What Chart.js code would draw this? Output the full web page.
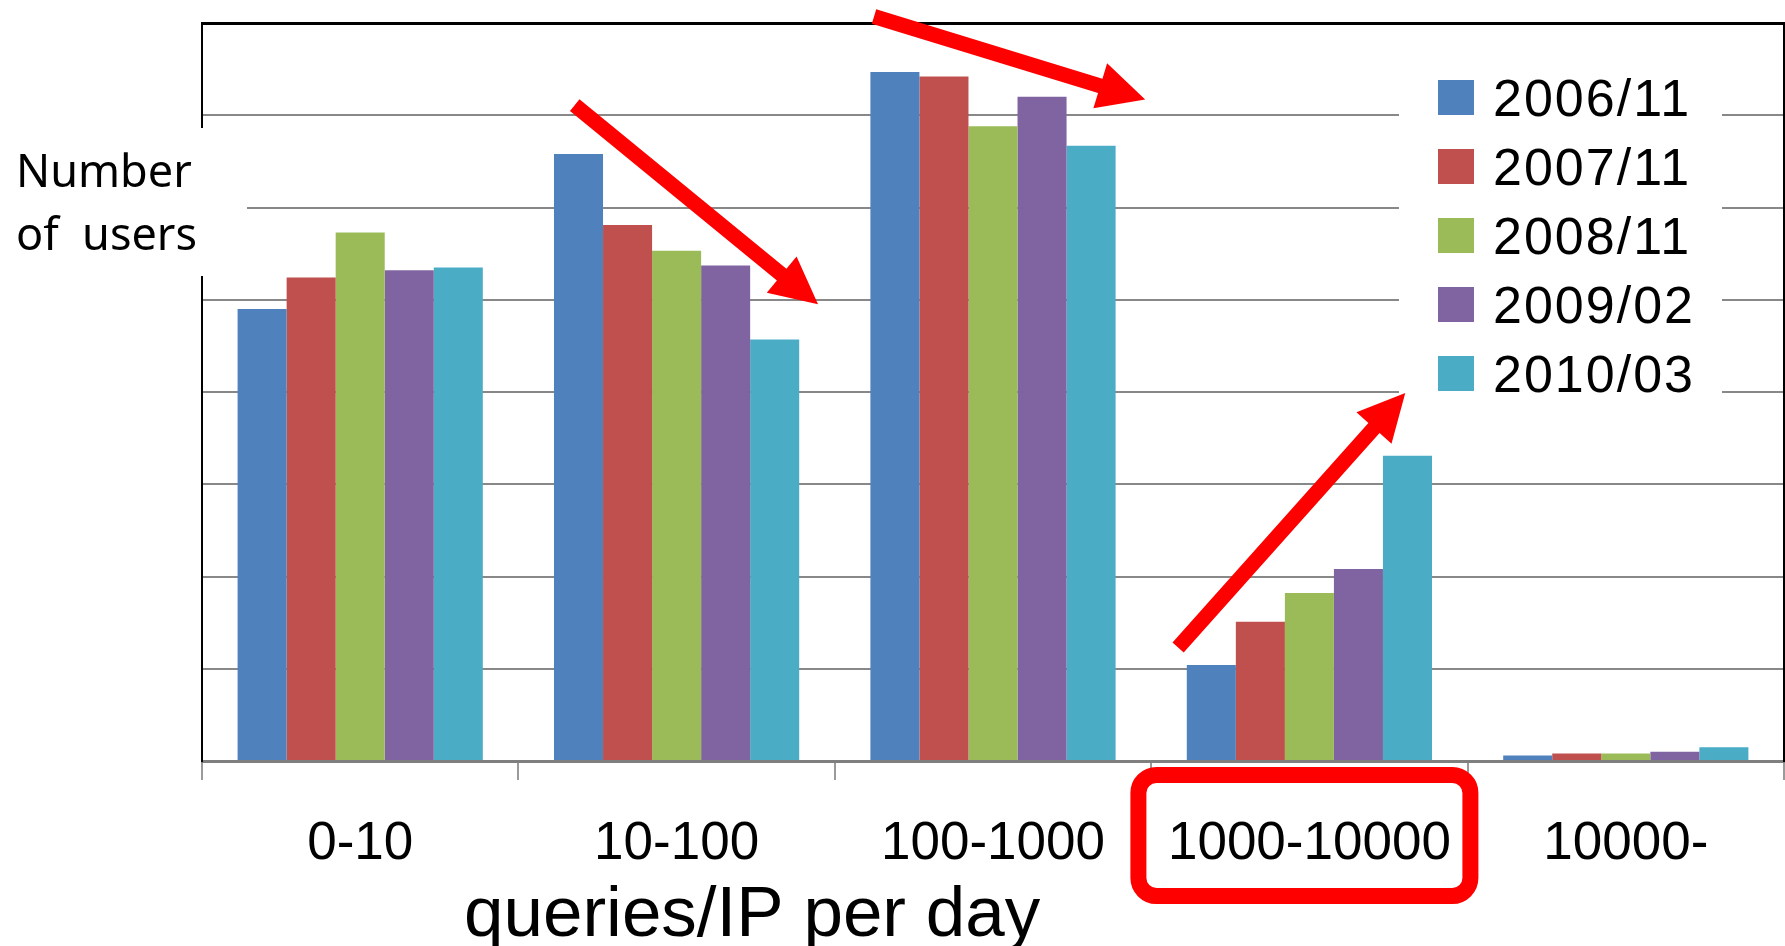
<!DOCTYPE html>
<html>
<head>
<meta charset="utf-8">
<script src="https://cdn.jsdelivr.net/npm/chart.js@4.4.1/dist/chart.umd.min.js"></script>
<style>
  body { margin: 0; background: #fff; }
  canvas { display: block; }
</style>
</head>
<body>
<canvas id="chartjs-0" width="1785" height="946"></canvas>
<script>
var categories = ["0-10", "10-100", "100-1000", "1000-10000", "10000-"];
var periods = ["2006/11", "2007/11", "2008/11", "2009/02", "2010/03"];
var colors = ["#4F81BD", "#C0504D", "#9BBB59", "#8064A2", "#4BACC6"];

// number of users per bucket, in gridline units (the original has no y numbers)
var users200611 = [4.90, 6.58, 7.47, 1.04, 0.06];
var users200711 = [5.24, 5.81, 7.42, 1.51, 0.08];
var users200811 = [5.73, 5.53, 6.88, 1.82, 0.08];
var users200902 = [5.32, 5.37, 7.20, 2.08, 0.10];
var users201003 = [5.35, 4.57, 6.67, 3.31, 0.15];

var yLabelLines = ["Number", "of  users"];
var xTitle = "queries/IP per day";

// red arrows: [category position, value] -> [category position, value]
var arrows = [
  [0.678, 7.11, 1.447, 4.95],
  [1.624, 8.07, 2.481, 7.17],
  [2.585, 1.23, 3.303, 3.99]
];
var highlightCategory = 3;

function drawArrow(ctx, x0, y0, x1, y1) {
  var dx = x1 - x0, dy = y1 - y0;
  var len = Math.sqrt(dx * dx + dy * dy);
  var ux = dx / len, uy = dy / len;
  var px = -uy, py = ux;
  var head = 47, hw = 23.5, sw = 7.5;
  var bx = x1 - ux * head, by = y1 - uy * head;
  ctx.beginPath();
  ctx.moveTo(x0 + px * sw, y0 + py * sw);
  ctx.lineTo(bx + px * sw, by + py * sw);
  ctx.lineTo(bx + px * hw, by + py * hw);
  ctx.lineTo(x1, y1);
  ctx.lineTo(bx - px * hw, by - py * hw);
  ctx.lineTo(bx - px * sw, by - py * sw);
  ctx.lineTo(x0 - px * sw, y0 - py * sw);
  ctx.closePath();
  ctx.fill();
}

var extras = {
  id: "extras",
  afterDraw: function (chart) {
    var ctx = chart.ctx;
    var area = chart.chartArea;
    var xs = chart.scales.x;
    var ys = chart.scales.y;
    var catW = xs.getPixelForValue(1) - xs.getPixelForValue(0);
    function cx(v) { return xs.getPixelForValue(0) + v * catW; }

    ctx.save();

    // y label on a white box
    ctx.fillStyle = "#fff";
    ctx.fillRect(0, 128, area.left + 45, 148);
    ctx.fillStyle = "#000";
    ctx.font = "45px 'Noto Sans'";
    ctx.textBaseline = "alphabetic";
    ctx.textAlign = "left";
    ctx.fillText(yLabelLines[0], 16, 187);
    ctx.fillText(yLabelLines[1], 16, 250);

    // x title
    ctx.font = "71px 'Liberation Sans'";
    ctx.fillText(xTitle, 464, 936);

    // legend
    var lx = area.right - 385;
    ctx.fillStyle = "#fff";
    ctx.fillRect(lx, 50, 323, 370);
    ctx.font = "52px 'Liberation Sans'";
    ctx.letterSpacing = "2px";
    chart.data.datasets.forEach(function (ds, i) {
      var top = 80 + i * 69;
      ctx.fillStyle = ds.backgroundColor;
      ctx.fillRect(lx + 39, top, 36, 35);
      ctx.fillStyle = "#000";
      ctx.fillText(ds.label, lx + 94, top + 36);
    });
    ctx.letterSpacing = "0px";

    // arrows
    ctx.fillStyle = "#FF0000";
    arrows.forEach(function (a) {
      drawArrow(ctx, cx(a[0]), ys.getPixelForValue(a[1]), cx(a[2]), ys.getPixelForValue(a[3]));
    });

    // box round the highlighted label
    var hc = xs.getPixelForValue(highlightCategory) - 5;
    ctx.strokeStyle = "#FF0000";
    ctx.lineWidth = 16;
    ctx.beginPath();
    ctx.roundRect(hc - 166, area.bottom + 14, 332, 121, 18);
    ctx.stroke();

    ctx.restore();
  }
};

var ctx0 = document.getElementById("chartjs-0");
var seriesList = [users200611, users200711, users200811, users200902, users201003];
var myChart = new Chart(ctx0, {
  type: "bar",
  data: {
    labels: categories,
    datasets: seriesList.map(function (s, i) {
      return {
        label: periods[i],
        data: s,
        backgroundColor: colors[i],
        borderWidth: 0,
        categoryPercentage: 0.775,
        barPercentage: 1.0
      };
    })
  },
  options: {
    responsive: false,
    animation: false,
    devicePixelRatio: 1,
    layout: { padding: { left: 202, top: 23, right: 1, bottom: 0 } },
    plugins: {
      legend: { display: false },
      tooltip: { enabled: false }
    },
    scales: {
      x: {
        grid: {
          offset: true,
          drawOnChartArea: false,
          drawTicks: true,
          tickLength: 19,
          color: "#9a9a9a",
          lineWidth: 2
        },
        border: { display: true, color: "#7f7f7f", width: 3 },
        ticks: {
          color: "#000",
          font: { family: "'Liberation Sans'", size: 53 },
          padding: 33,
          maxRotation: 0,
          autoSkip: false
        },
        afterFit: function (scale) { scale.height = 185; }
      },
      y: {
        min: 0,
        max: 8,
        ticks: { display: false, stepSize: 1 },
        grid: {
          drawTicks: false,
          color: function (c) { return c.tick && c.tick.value === 8 ? "#000" : "#888888"; },
          lineWidth: function (c) { return c.tick && c.tick.value === 8 ? 3 : 2; }
        },
        border: { display: true, color: "#000", width: 2 }
      },
      y2: {
        position: "right",
        min: 0,
        max: 8,
        ticks: { display: false },
        grid: { drawOnChartArea: false, drawTicks: false },
        border: { display: true, color: "#000", width: 2 }
      }
    }
  },
  plugins: [extras]
});
</script>
</body>
</html>
